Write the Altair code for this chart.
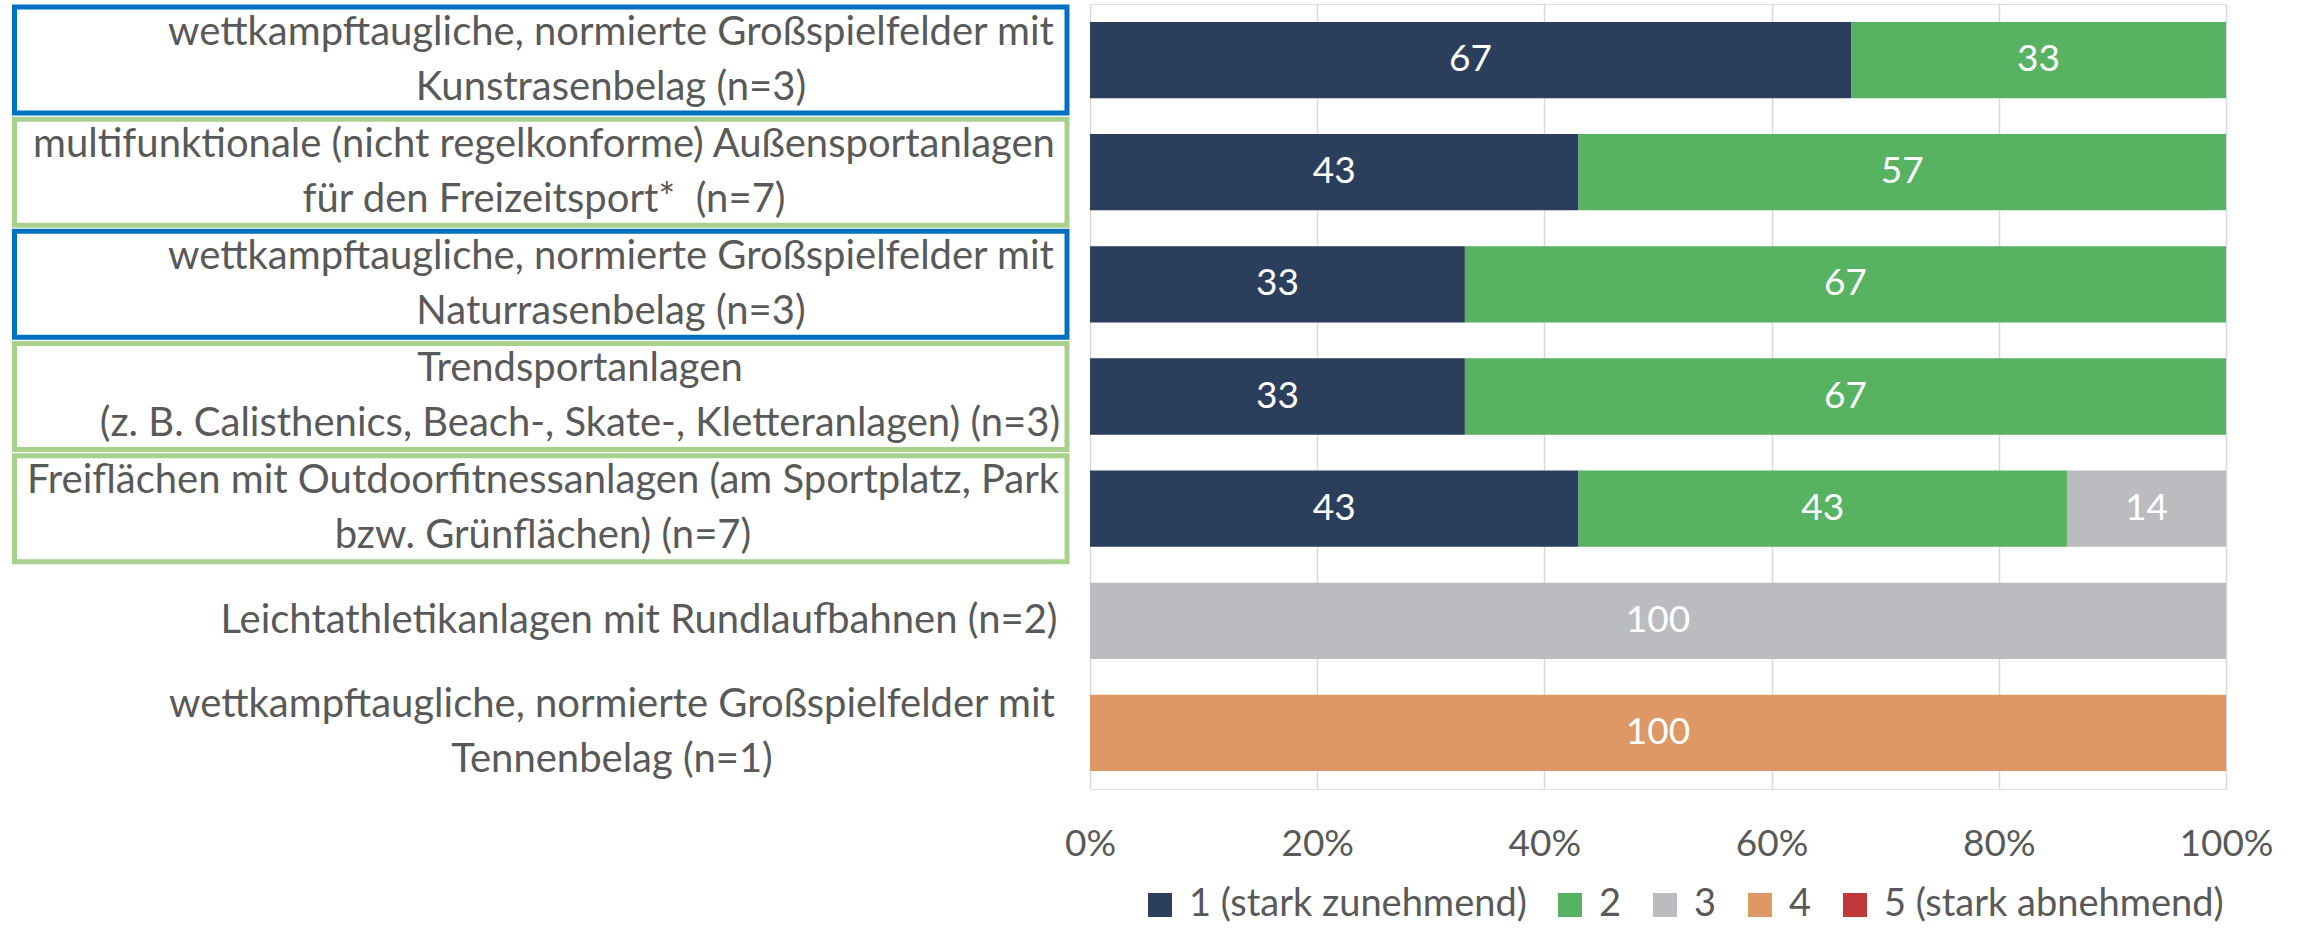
import altair as alt
import pandas as pd

# ---- data -------------------------------------------------------------
categories = [
    "wettkampftaugliche, normierte Großspielfelder mit\nKunstrasenbelag (n=3)",
    "multifunktionale (nicht regelkonforme) Außensportanlagen\nfür den Freizeitsport* \u00a0(n=7)",
    "wettkampftaugliche, normierte Großspielfelder mit\nNaturrasenbelag (n=3)",
    "Trendsportanlagen\n(z. B. Calisthenics, Beach-, Skate-, Kletteranlagen) (n=3)",
    "Freiflächen mit Outdoorfitnessanlagen (am Sportplatz, Park\nbzw. Grünflächen) (n=7)",
    "Leichtathletikanlagen mit Rundlaufbahnen (n=2)",
    "wettkampftaugliche, normierte Großspielfelder mit\nTennenbelag (n=1)",
]
cat_ids = ["c1", "c2", "c3", "c4", "c5", "c6", "c7"]
levels = ["1 (stark zunehmend)", "2", "3", "4", "5 (stark abnehmend)"]
v1 = [67, 43, 33, 33, 43, 0, 0]
v2 = [33, 57, 67, 67, 43, 0, 0]
v3 = [0, 0, 0, 0, 14, 100, 0]
v4 = [0, 0, 0, 0, 0, 0, 100]
v5 = [0, 0, 0, 0, 0, 0, 0]
box_group = ["blue", "green", "blue", "green", "green", None, None]
tick_values = [0, 20, 40, 60, 80, 100]

# ---- layout / style ----------------------------------------------------
level_colors = ["#2B3E5C", "#57B362", "#BBBCC0", "#DD9865", "#C0393A"]
label_centers = [-479, -546, -479, -510, -547, -451, -478]
FONT = "Lato"
FS = 37
LFS = 40
LINE_H = 55
TXT = "#595959"

rows = []
for i, cid in enumerate(cat_ids):
    for j, vals in enumerate([v1, v2, v3, v4, v5]):
        rows.append({"cat": cid, "level": levels[j], "lvl": j + 1, "value": vals[i]})
df = pd.DataFrame(rows)

lab_df = pd.DataFrame({
    "cat": cat_ids,
    "text": categories,
    "cx": label_centers,
    "nlines": [len(c.split("\n")) for c in categories],
})
box_df = pd.DataFrame({"cat": cat_ids, "grp": box_group}).dropna()

yenc = alt.Y(
    "cat:N",
    sort=cat_ids,
    scale=alt.Scale(paddingInner=0.32, paddingOuter=0.16),
    axis=alt.Axis(labels=False, ticks=False, domain=False, title=None, grid=False),
)

boxes = alt.Chart(box_df).mark_bar(height=106, fill="white", strokeWidth=5).encode(
    y=yenc,
    x=alt.value(-1075.5),
    x2=alt.value(-23),
    stroke=alt.Stroke(
        "grp:N",
        scale=alt.Scale(domain=["blue", "green"], range=["#0070C0", "#A9D18E"]),
        legend=None,
    ),
)


def label_layer(n):
    return alt.Chart(lab_df).transform_filter(f"datum.nlines == {n}").mark_text(
        align="center", baseline="middle", lineBreak="\n", lineHeight=LINE_H,
        fontSize=LFS, font=FONT, color=TXT, dy=-(n - 1) * LINE_H / 2,
    ).encode(
        y=yenc,
        x=alt.X("cx:Q", scale=None),
        text="text:N",
    )


labels1 = label_layer(1)
labels2 = label_layer(2)

stacked = alt.Chart(df).transform_stack(
    stack="value", groupby=["cat"], as_=["v0", "v1"],
    sort=[alt.SortField("lvl", order="ascending")],
).transform_calculate(mid="(datum.v0 + datum.v1) / 2")

bars = stacked.mark_bar().encode(
    y=yenc,
    x=alt.X(
        "v0:Q",
        scale=alt.Scale(domain=[0, 100], nice=False),
        axis=alt.Axis(
            values=tick_values, labelExpr="datum.value + '%'", title=None,
            grid=True, gridColor="#D9D9D9", gridWidth=1.5, domain=False,
            ticks=False, tickSize=0, labelPadding=37, labelFontSize=FS,
            labelFont=FONT, labelColor=TXT, labelFlush=False,
        ),
    ),
    x2="v1:Q",
    color=alt.Color(
        "level:N",
        scale=alt.Scale(domain=levels, range=level_colors),
        legend=alt.Legend(
            orient="none", direction="horizontal", legendX=51, legendY=882,
            title=None, symbolType="square", symbolSize=576, labelFontSize=38,
            labelFont=FONT, labelColor=TXT, columnPadding=24, labelOffset=10,
            padding=0, symbolStrokeWidth=0, labelLimit=1000,
        ),
    ),
)

values_txt = stacked.transform_filter("datum.value > 0").mark_text(
    align="center", baseline="middle", fontSize=FS, font=FONT, color="white",
).encode(
    y=yenc,
    x=alt.X("mid:Q"),
    text="value:Q",
)

chart = alt.layer(boxes, labels1, labels2, bars, values_txt).properties(
    width=1136, height=785,
    padding={"left": 12, "top": 4, "right": 10, "bottom": 5},
).configure_view(stroke=None).configure(background="white")

chart.save("out.html", embed_options={"renderer": "svg", "actions": False})
